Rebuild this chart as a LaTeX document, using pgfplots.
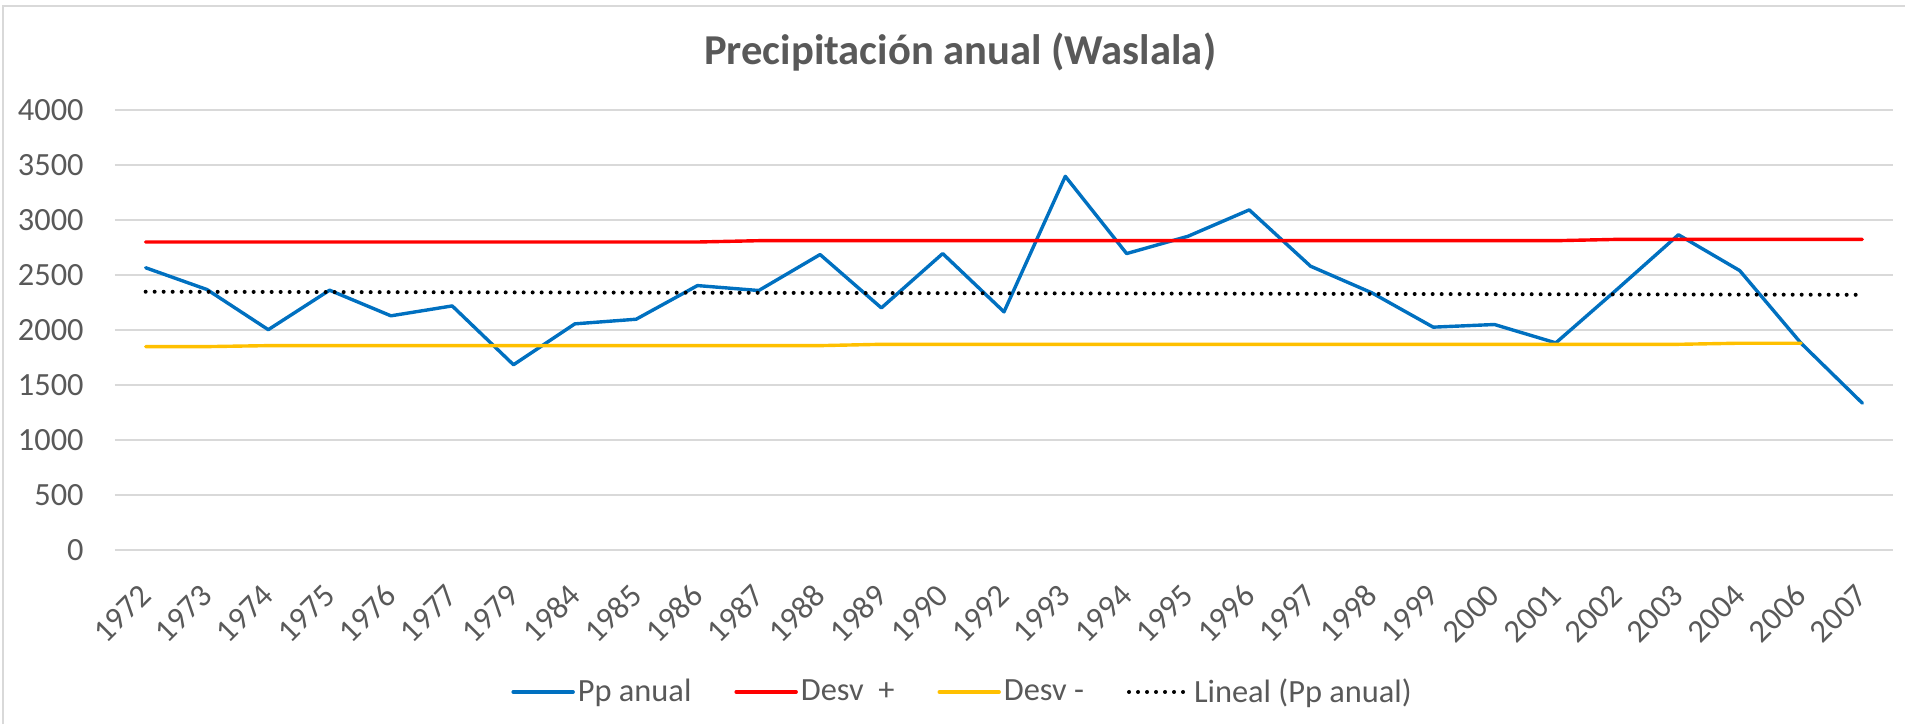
\documentclass[border=0pt]{standalone}
\usepackage{fontspec}
\setmainfont{Carlito}
\usepackage{pgfplots}
\pgfplotsset{compat=1.18}
\definecolor{xlblue}{HTML}{0070C0}
\definecolor{xlred}{HTML}{FF0000}
\definecolor{xlyellow}{HTML}{FFC000}
\definecolor{txtgray}{HTML}{595959}
\definecolor{gridgray}{HTML}{D9D9D9}
\newcommand\lblfont{\fontsize{16.2}{18}\selectfont}
\begin{document}
\begin{tikzpicture}
\path[use as bounding box] (-57.5pt,-87pt) rectangle (895pt,275pt);
\draw[gridgray, line width=1pt] (-56pt,-87pt) -- (-56pt,272pt) -- (895pt,272pt);
\begin{axis}[
  at={(0pt,0pt)}, anchor=south west,
  width=889pt, height=220pt, scale only axis,
  xmin=-0.5, xmax=28.5, ymin=0, ymax=4000,
  ytick={0,500,...,4000},
  xtick={0,...,28},
  xticklabels={1972,1973,1974,1975,1976,1977,1979,1984,1985,1986,1987,1988,1989,1990,1992,1993,1994,1995,1996,1997,1998,1999,2000,2001,2002,2003,2004,2006,2007},
  axis line style={draw=none},
  major tick length=0pt,
  ymajorgrids,
  grid style={gridgray, line width=0.7pt},
  /pgf/number format/assume math mode=true,
  yticklabel={\pgfmathprintnumber[fixed,1000 sep={}]{\tick}},
  ticklabel style={font=\lblfont, text=txtgray},
  yticklabel style={inner sep=0pt, anchor=east, xshift=-15.5pt},
  xticklabel style={inner sep=0pt, rotate=45, anchor=east},
  xticklabel shift=20pt,
  title={\fontsize{21.3}{25}\selectfont\bfseries Precipitación anual (Waslala)},
  title style={at={(axis description cs:0.4753,1)}, anchor=base, yshift=17pt, text=txtgray, inner sep=0pt},
  legend columns=4,
  legend style={draw=none, fill=none, font=\lblfont, text=txtgray,
    at={(axis description cs:0.477,-0.3227)}, anchor=center,
    inner sep=0pt,
    nodes={inner xsep=1.5pt, inner ysep=1pt},
    /tikz/every even column/.append style={column sep=20pt}},
  legend image code/.code={\draw[#1] (0pt,0pt) -- (30pt,0pt);},
]
\addplot[xlblue, line width=1.7pt, line join=round, line cap=round] coordinates {
(0,2566) (1,2368) (2,2003) (3,2362) (4,2129) (5,2219) (6,1684) (7,2056) (8,2098) (9,2404)
(10,2359) (11,2686) (12,2201) (13,2695) (14,2165) (15,3397) (16,2695) (17,2852) (18,3092) (19,2580)
(20,2338) (21,2026) (22,2050) (23,1883) (24,2370) (25,2866) (26,2540) (27,1880) (28,1335)};
\addlegendentry{Pp anual}
\addplot[xlred, line width=1.7pt, line join=round, line cap=round] coordinates {
(0,2800) (1,2800) (2,2800) (3,2800) (4,2800) (5,2800) (6,2800) (7,2800) (8,2800) (9,2800)
(10,2812) (11,2812) (12,2812) (13,2812) (14,2812) (15,2812) (16,2812) (17,2812) (18,2812) (19,2812)
(20,2812) (21,2812) (22,2812) (23,2812) (24,2824) (25,2824) (26,2824) (27,2824) (28,2824)};
\addlegendentry{Desv\ \ +}
\addplot[xlyellow, line width=1.7pt, line join=round, line cap=round] coordinates {
(0,1849) (1,1849) (2,1858) (3,1858) (4,1858) (5,1858) (6,1858) (7,1858) (8,1858) (9,1858)
(10,1858) (11,1858) (12,1870) (13,1870) (14,1870) (15,1870) (16,1870) (17,1870) (18,1870) (19,1870)
(20,1870) (21,1870) (22,1870) (23,1870) (24,1870) (25,1870) (26,1880) (27,1880)};
\addlegendentry{Desv -}
\addplot[black, line width=2pt, line cap=round, dash pattern=on 0pt off 4.5pt] coordinates {
(0,2348) (28,2320)};
\addlegendentry{Lineal (Pp anual)}
\end{axis}
\end{tikzpicture}
\end{document}
